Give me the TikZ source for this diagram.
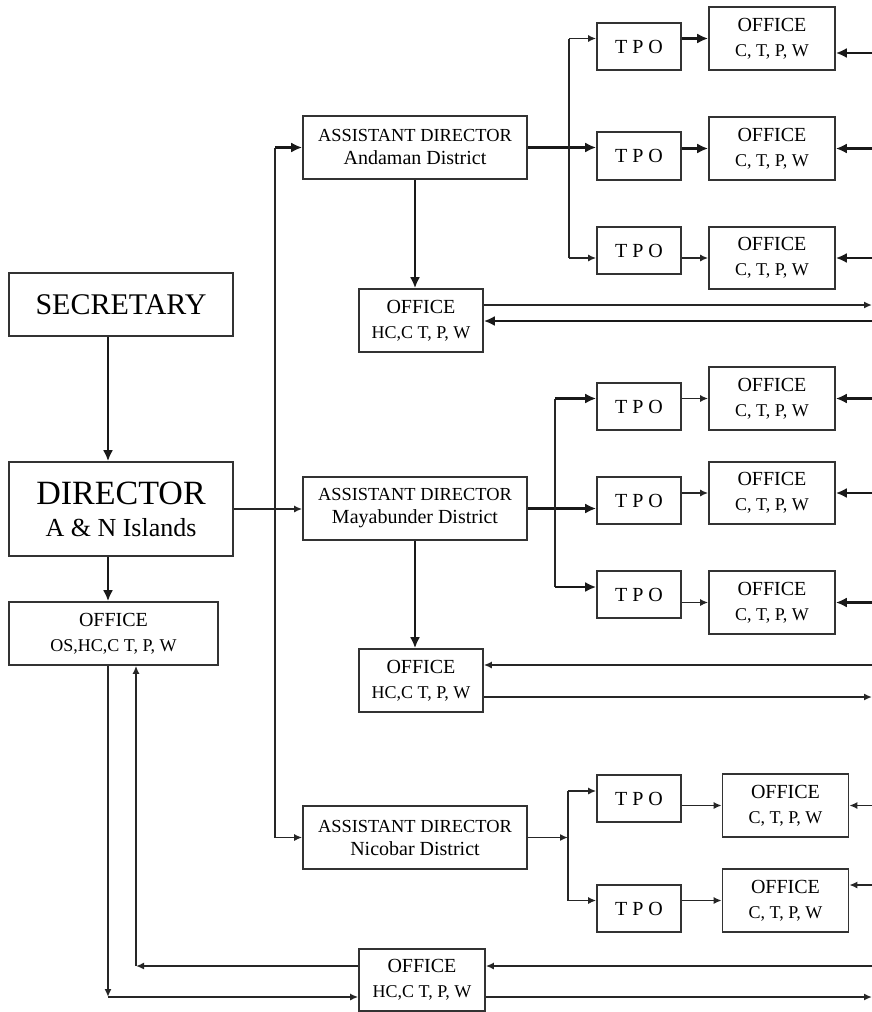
\documentclass[tikz,border=0pt]{standalone}
\usepackage{fontspec}
\setmainfont{Liberation Serif}
\usetikzlibrary{arrows.meta}

\begin{document}
\begin{tikzpicture}[x=0.5pt,y=0.5pt,yscale=-1,xscale=1,
  box/.style={draw=black!80,line width=0.8pt,inner sep=0pt,align=center},
  adbox/.style={box,minimum width=112pt,minimum height=31.5pt,font=\fontsize{10}{11.5}\selectfont},
  offbox/.style={box,minimum width=62pt,minimum height=31.5pt,font=\fontsize{9}{12.3}\selectfont},
  ctpbox/.style={box,minimum width=63pt,minimum height=31.5pt,font=\fontsize{9}{12.3}\selectfont},
  tpobox/.style={box,minimum width=42pt,minimum height=23.5pt,font=\fontsize{10}{12}\selectfont},
  thinline/.style={draw=black!85,line width=0.8pt},
  thickline/.style={draw=black!90,line width=1.4pt},
  thinarrow/.style={thinline,-{Latex[length=4pt,width=3.5pt]}},
  thickarrow/.style={thickline,-{Latex[length=5.5pt,width=5pt]}}
]
\useasboundingbox (0,0) rectangle (872,1012);

% Text Node
\node[box,minimum width=112pt,minimum height=31.5pt,font=\fontsize{15}{18}\selectfont] (sec) at (121,304.5) {SECRETARY};
% Text Node
\node[box,minimum width=112pt,minimum height=47pt,font=\fontsize{13}{16}\selectfont] (dir) at (121,509) {{\fontsize{17}{16}\selectfont DIRECTOR}\\A \& N Islands};
% Text Node
\node[box,minimum width=104.5pt,minimum height=31.5pt,font=\fontsize{9}{12.3}\selectfont] (hq) at (113.5,633.5) {{\fontsize{10}{12.3}\selectfont OFFICE}\\OS,HC,C T, P, W};

% Text Node
\node[adbox] (adA) at (415,147.5) {{\fontsize{9.2}{11.5}\selectfont ASSISTANT DIRECTOR}\\Andaman District};
% Text Node
\node[adbox] (adM) at (415,508.5) {{\fontsize{9.2}{11.5}\selectfont ASSISTANT DIRECTOR}\\Mayabunder District};
% Text Node
\node[adbox] (adN) at (415,837.5) {{\fontsize{9.2}{11.5}\selectfont ASSISTANT DIRECTOR}\\Nicobar District};

% Text Node
\node[offbox] (offA) at (421,320.5) {{\fontsize{10}{12.3}\selectfont OFFICE}\\HC,C T, P, W};
% Text Node
\node[offbox] (offM) at (421,680.5) {{\fontsize{10}{12.3}\selectfont OFFICE}\\HC,C T, P, W};
% Text Node
\node[offbox,minimum width=63pt,minimum height=31pt] (offB) at (422,980) {{\fontsize{10}{12.3}\selectfont OFFICE}\\HC,C T, P, W};

% Text Node
\node[tpobox] (tA1) at (639,46.5) {T P O};
% Text Node
\node[tpobox,minimum height=24pt] (tA2) at (639,156) {T P O};
% Text Node
\node[tpobox] (tA3) at (639,250.5) {T P O};
% Text Node
\node[tpobox] (tM1) at (639,406.5) {T P O};
% Text Node
\node[tpobox] (tM2) at (639,500.5) {T P O};
% Text Node
\node[tpobox] (tM3) at (639,594.5) {T P O};
% Text Node
\node[tpobox] (tN1) at (639,798.5) {T P O};
% Text Node
\node[tpobox] (tN2) at (639,908.5) {T P O};

% Text Node
\node[ctpbox] (oA1) at (772,38.5) {{\fontsize{10}{12.3}\selectfont OFFICE}\\C, T, P, W};
% Text Node
\node[ctpbox] (oA2) at (772,148.5) {{\fontsize{10}{12.3}\selectfont OFFICE}\\C, T, P, W};
% Text Node
\node[ctpbox,minimum height=31pt] (oA3) at (772,258) {{\fontsize{10}{12.3}\selectfont OFFICE}\\C, T, P, W};
% Text Node
\node[ctpbox] (oM1) at (772,398.5) {{\fontsize{10}{12.3}\selectfont OFFICE}\\C, T, P, W};
% Text Node
\node[ctpbox,minimum height=31pt] (oM2) at (772,493) {{\fontsize{10}{12.3}\selectfont OFFICE}\\C, T, P, W};
% Text Node
\node[ctpbox] (oM3) at (772,602.5) {{\fontsize{10}{12.3}\selectfont OFFICE}\\C, T, P, W};
% Text Node
\node[ctpbox] (oN1) at (785.5,805.5) {{\fontsize{10}{12.3}\selectfont OFFICE}\\C, T, P, W};
% Text Node
\node[ctpbox] (oN2) at (785.5,900.5) {{\fontsize{10}{12.3}\selectfont OFFICE}\\C, T, P, W};

% Corners and edge points
\coordinate (lx) at (108,997);
\coordinate (rx) at (136,966);
\coordinate (spine) at (275,0);
\coordinate (bA) at (569,0);
\coordinate (bM) at (555,0);
\coordinate (bN) at (568,0);
\coordinate (jM3) at (555,587);
\coordinate (jN1) at (568,791);
\coordinate (edge) at (872,0);
\coordinate (inA1) at (872,53);
\coordinate (outA) at (872,305);
\coordinate (inA) at (872,321);
\coordinate (inM) at (872,665);
\coordinate (outM) at (872,697);
\coordinate (inN2) at (872,885);

% Connection
\draw[thickarrow] (sec.south -| lx) -- (dir.north -| lx);
% Connection
\draw[thickarrow] (dir.south -| lx) -- (hq.north -| lx);
% Connection
\draw[thinarrow] (hq.south -| lx) -- (lx);
% Connection
\draw[thinarrow] (lx) -- (offB.west |- lx);
% Connection
\draw[thinarrow] (offB.west |- rx) -- (rx);
% Connection
\draw[thinarrow] (rx) -- (hq.south -| rx);
% Connection
\draw[thinarrow] (offB.east |- lx) -- (lx -| edge);
% Connection
\draw[thinarrow] (rx -| edge) -- (offB.east |- rx);

% Connection
\draw[thinarrow] (dir.east) -- (adM.west |- dir.east);
% Connection
\draw[thinline] (adA.west -| spine) -- (adN.west -| spine);
% Connection
\draw[thickarrow] (adA.west -| spine) -- (adA.west);
% Connection
\draw[thinarrow] (adN.west -| spine) -- (adN.west);

% Connection
\draw[thickarrow] (adA.south) -- (adA.south |- offA.north);
% Connection
\draw[thickarrow] (adA.east) -- (tA2.west |- adA.east);
% Connection
\draw[thinline] (bA |- oA1.west) -- (bA |- oA3.west);
% Connection
\draw[thinarrow] (bA |- oA1.west) -- (tA1.west |- oA1.west);
% Connection
\draw[thinarrow] (bA |- oA3.west) -- (tA3.west |- oA3.west);
% Connection
\draw[thickarrow] (tA1.east |- oA1.west) -- (oA1.west);
% Connection
\draw[thickarrow] (tA2.east |- oA2.west) -- (oA2.west);
% Connection
\draw[thinarrow] (tA3.east |- oA3.west) -- (oA3.west);
% Connection
\draw[thickarrow] (inA1) -- (oA1.east |- inA1);
% Connection
\draw[thickarrow] (oA2.east -| edge) -- (oA2.east);
% Connection
\draw[thickarrow] (oA3.east -| edge) -- (oA3.east);
% Connection
\draw[thinarrow] (offA.east |- outA) -- (outA);
% Connection
\draw[thickarrow] (inA) -- (offA.east |- inA);

% Connection
\draw[thickarrow] (adM.south) -- (adM.south |- offM.north);
% Connection
\draw[thickarrow] (adM.east) -- (tM2.west |- adM.east);
% Connection
\draw[thinline] (bM |- oM1.west) -- (jM3);
% Connection
\draw[thickarrow] (bM |- oM1.west) -- (tM1.west |- oM1.west);
% Connection
\draw[thickarrow] (jM3) -- (tM3.west |- jM3);
% Connection
\draw[thinarrow] (tM1.east |- oM1.west) -- (oM1.west);
% Connection
\draw[thinarrow] (tM2.east |- oM2.west) -- (oM2.west);
% Connection
\draw[thinarrow] (tM3.east |- oM3.west) -- (oM3.west);
% Connection
\draw[thickarrow] (oM1.east -| edge) -- (oM1.east);
% Connection
\draw[thickarrow] (oM2.east -| edge) -- (oM2.east);
% Connection
\draw[thickarrow] (oM3.east -| edge) -- (oM3.east);
% Connection
\draw[thinarrow] (inM) -- (offM.east |- inM);
% Connection
\draw[thinarrow] (offM.east |- outM) -- (outM);

% Connection
\draw[thinarrow] (adN.east) -- (bN |- adN.east);
% Connection
\draw[thinline] (jN1) -- (bN |- oN2.west);
% Connection
\draw[thinarrow] (jN1) -- (tN1.west |- jN1);
% Connection
\draw[thinarrow] (bN |- oN2.west) -- (tN2.west |- oN2.west);
% Connection
\draw[thinarrow] (tN1.east |- oN1.west) -- (oN1.west);
% Connection
\draw[thinarrow] (tN2.east |- oN2.west) -- (oN2.west);
% Connection
\draw[thinarrow] (oN1.east -| edge) -- (oN1.east);
% Connection
\draw[thinarrow] (inN2) -- (oN2.east |- inN2);

\end{tikzpicture}
\end{document}
